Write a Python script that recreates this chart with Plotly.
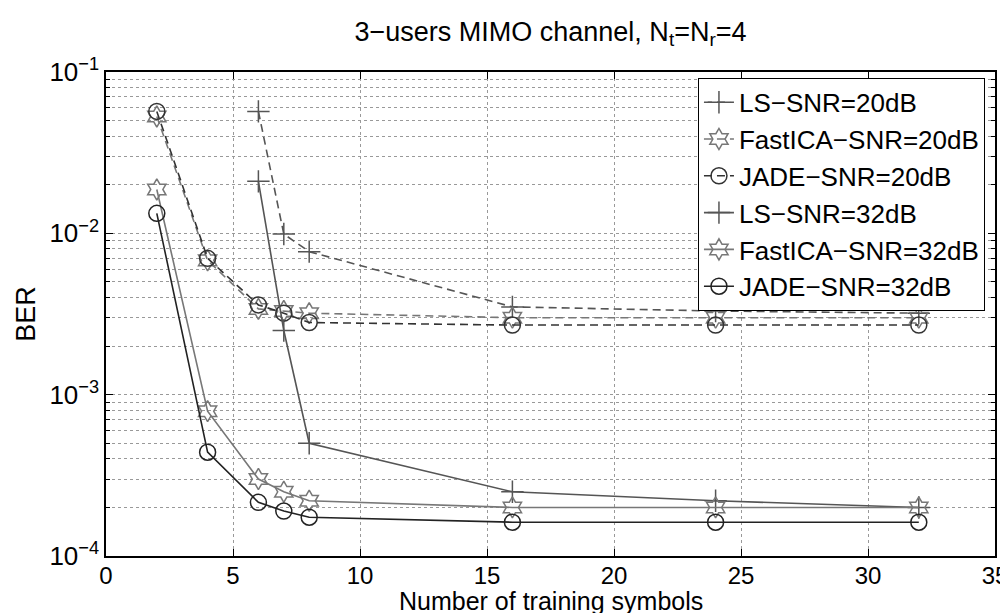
import plotly.graph_objects as go

# training symbols
x_all = [2, 4, 6, 7, 8, 16, 24, 32]
x_ls = [6, 7, 8, 16, 24, 32]

ls_20 = [0.057, 0.0099, 0.0077, 0.0035, 0.0033, 0.0032]
fastica_20 = [0.053, 0.0068, 0.0034, 0.0033, 0.0032, 0.0030, 0.0030, 0.0030]
jade_20 = [0.057, 0.0070, 0.0036, 0.0032, 0.0028, 0.0027, 0.0027, 0.0027]
ls_32 = [0.021, 0.0025, 0.0005, 0.00025, 0.00022, 0.00020]
fastica_32 = [0.0187, 0.00079, 0.00030, 0.00025, 0.00022, 0.00020, 0.00020, 0.00020]
jade_32 = [0.0133, 0.00044, 0.000215, 0.00019, 0.000174, 0.000162, 0.000162, 0.000162]

FONT = "Liberation Sans, Arial, Helvetica, sans-serif"

series = [
    ("LS\u2212SNR=20dB", x_ls, ls_20, "#555555", "8px,5px", "cross-thin-open"),
    ("FastICA\u2212SNR=20dB", x_all, fastica_20, "#777777", "8px,5px", "hexagram-open"),
    ("JADE\u2212SNR=20dB", x_all, jade_20, "#333333", "8px,5px", "circle-open"),
    ("LS\u2212SNR=32dB", x_ls, ls_32, "#555555", "solid", "cross-thin-open"),
    ("FastICA\u2212SNR=32dB", x_all, fastica_32, "#777777", "solid", "hexagram-open"),
    ("JADE\u2212SNR=32dB", x_all, jade_32, "#222222", "solid", "circle-open"),
]

fig = go.Figure()
for name, xs, ys, col, dash, sym in series:
    fig.add_trace(go.Scatter(
        x=xs, y=ys, name=name, mode="lines+markers",
        line=dict(color=col, width=1.6, dash=dash),
        marker=dict(symbol=sym, size=16, color=col, line=dict(color=col, width=1.5)),
    ))

ytick_vals = [1e-4, 1e-3, 1e-2, 1e-1]
ytick_text = ["10<sup>\u22124</sup>", "10<sup>\u22123</sup>", "10<sup>\u22122</sup>", "10<sup>\u22121</sup>"]

fig.update_layout(
    width=1008, height=613,
    margin=dict(l=98, r=21, t=64, b=65),
    paper_bgcolor="white", plot_bgcolor="white",
    font=dict(family=FONT, color="black", size=26),
    title=dict(text="3\u2212users MIMO channel, N<sub>t</sub>=N<sub>r</sub>=4",
               xref="paper", x=0.5, xanchor="center",
               y=0.962, yanchor="middle", font=dict(size=27)),
    legend=dict(x=0.9887, y=0.988, xanchor="right", yanchor="top",
                bgcolor="white", bordercolor="black", borderwidth=1,
                font=dict(size=26), tracegroupgap=0, itemwidth=30),
    showlegend=True,
)

# x label sits tight under the tick labels, as in the original export
fig.add_annotation(text="Number of training symbols", xref="paper", yref="paper",
                   x=0.5, y=0, xanchor="center", yanchor="bottom", yshift=-61,
                   showarrow=False, font=dict(size=25))

fig.update_xaxes(
    range=[0, 35], dtick=5, showline=True, linecolor="black", linewidth=1.5,
    mirror="ticks", ticks="inside", ticklen=7, tickcolor="black",
    showgrid=True, gridcolor="#999999", griddash="dot", gridwidth=1,
    zeroline=False, tickfont=dict(size=24), automargin=False,
    ticklabelstandoff=-3,
)
fig.update_yaxes(
    type="log", range=[-4, -1], tickvals=ytick_vals, ticktext=ytick_text,
    showline=True, linecolor="black", linewidth=1.5,
    mirror="ticks", ticks="inside", ticklen=7, tickcolor="black",
    showgrid=True, gridcolor="#999999", griddash="dot", gridwidth=1,
    minor=dict(ticks="inside", ticklen=4, tickcolor="black", showgrid=True,
               gridcolor="#999999", griddash="dot", gridwidth=1,
               tickvals=[m * 10 ** e for e in (-4, -3, -2) for m in range(2, 10)]),
    zeroline=False, tickfont=dict(size=26), automargin=False,
    title=dict(text="BER", font=dict(size=27), standoff=6),
)

fig.write_html("out.html")
